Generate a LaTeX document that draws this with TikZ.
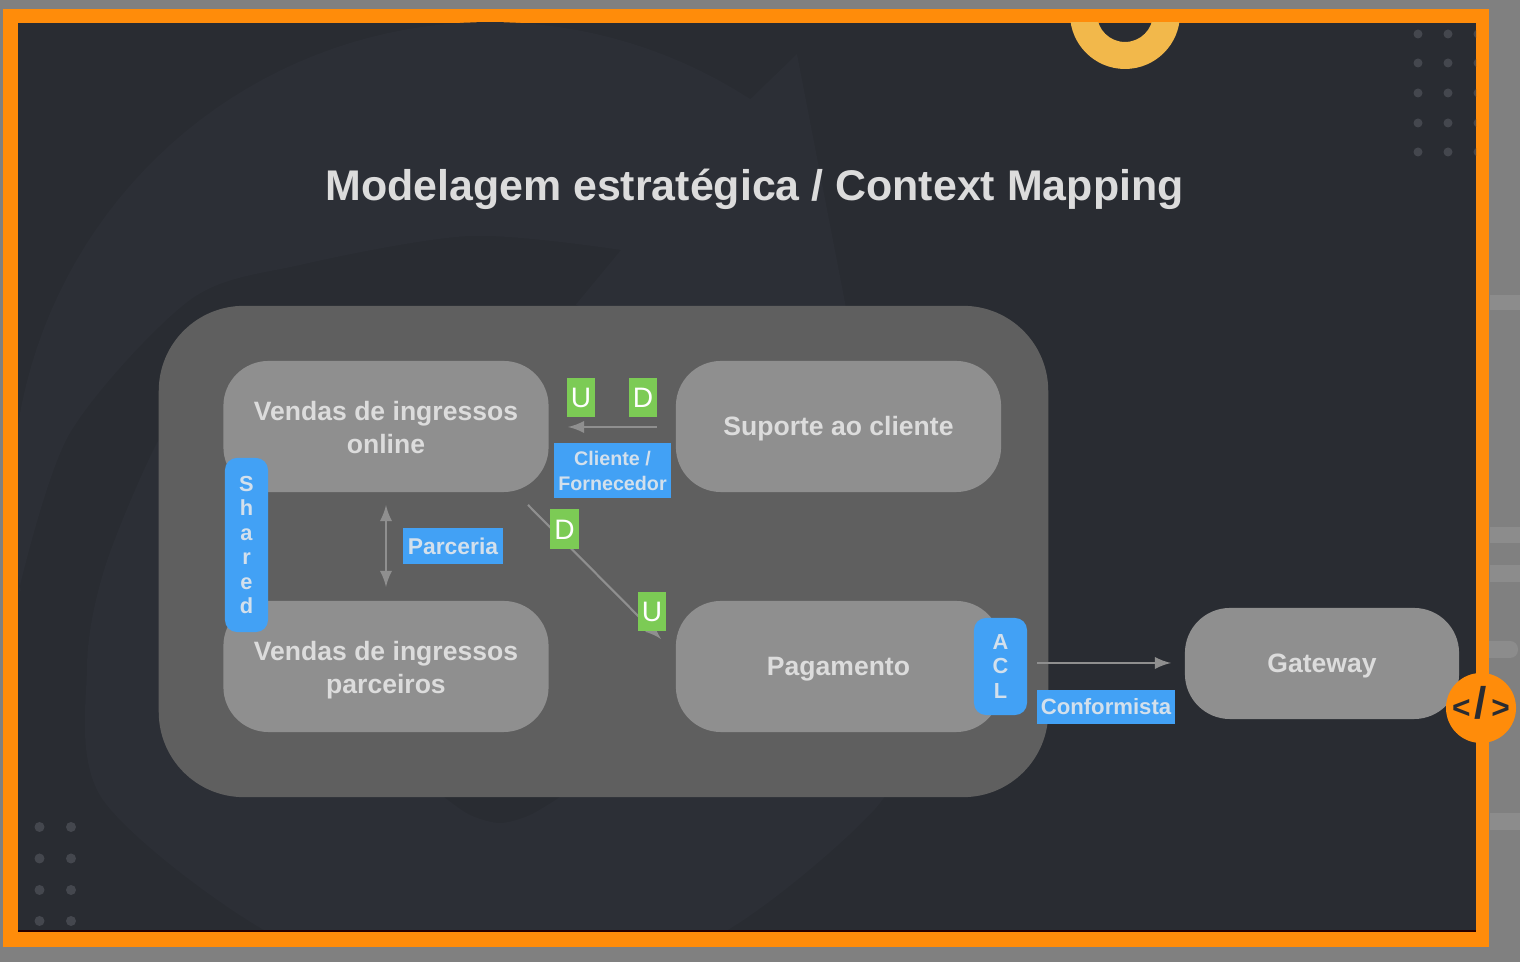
\documentclass[tikz,border=0pt]{standalone}
\usepackage{fontspec, graphicx}
\setmainfont{Liberation Sans}
\definecolor{slidebg}{HTML}{292C32}
\definecolor{swirl}{HTML}{2C2F36}
\definecolor{outerbg}{HTML}{808080}
\definecolor{outerbar}{HTML}{8C8C8C}
\definecolor{frameorange}{HTML}{FF8C0A}
\definecolor{ringyellow}{HTML}{F2B84B}
\definecolor{dotgrey}{HTML}{44474E}
\definecolor{regionfill}{HTML}{5F5F5F}
\definecolor{contextfill}{HTML}{8F8F8F}
\definecolor{labelblue}{HTML}{42A1F5}
\definecolor{taggreen}{HTML}{7CCB55}
\definecolor{softtext}{HTML}{DCDCDC}
\definecolor{bluetext}{HTML}{D3E0EC}
\definecolor{arrowgrey}{HTML}{8F8F8F}
\tikzset{
	context/.style={fill=contextfill, rounded corners=0.45cm, minimum height=1.31cm, minimum width=3.25cm,
		inner sep=0, align=center, text=softtext, font=\fontsize{7.55}{9.4}\selectfont\bfseries},
	oneline/.style={text height=5.4pt, text depth=0pt},
	twolines/.style={text height=15.4pt, text depth=0pt},
	bluelabel/.style={fill=labelblue, inner sep=0, align=center, text=bluetext, font=\fontsize{6.3}{7}\selectfont\bfseries},
	bluetab/.style={bluelabel, rounded corners=0.12cm},
	greentag/.style={fill=taggreen, inner sep=0, minimum width=0.285cm, minimum height=0.395cm, text height=5.7pt, text depth=0pt,
		text=white, font=\fontsize{8}{9}\selectfont},
	relation/.style={->,>=latex, color=arrowgrey, line width=0.6pt},
}

\begin{document}
\begin{tikzpicture}[x=0.01cm,y=-0.01cm]
	\useasboundingbox (0,0) rectangle (1520,962);

	% slide frame
	\fill[outerbg] (0,0) rectangle (1520,962);
	\foreach \py/\ph in {295/15,527/16,565/17,813/17}
		\fill[outerbar] (1490,\py) rectangle (1520,\py+\ph);
	\fill[outerbar, rounded corners=0.08cm] (1480,641) rectangle (1518,658);
	\fill[frameorange] (3,9) rectangle (1489,947);
	\fill[slidebg] (18,23) rectangle (1476,932);
	\fill[black!85!red] (18,930) rectangle (1476,932);

	% swirl behind the diagram
	\begin{scope}
		\clip (18,23) rectangle (1476,930);
		\fill[swirl] (797,54) -- plot[domain=-57:-191,samples=60] ({490+478*cos(\x)},{500+478*sin(\x)})
			-- plot[smooth] coordinates {(19,590) (70,433) (190,300) (300,265) (470,236) (621,250)}
			-- (575.5,305) -- (860,380) -- cycle;
		\fill[swirl] plot[smooth] coordinates {(200,390) (157,443) (105,567) (87,667) (103,800) (278,938) (500,1010) (714,938) (875,809) (930,700)}
			-- (560,780) -- plot[smooth] coordinates {(560,797) (530,815) (500,823) (470,815) (444,797)} -- (444,700) -- cycle;
	\end{scope}

	% dots and ring
	\begin{scope}
		\clip (18,23) rectangle (1476,930);
		\foreach \px in {1418,1448,1478}
			\foreach \py in {34,63,93,123,152}
				\fill[dotgrey] (\px,\py) circle (4.5);
		\foreach \px in {39.5,71}
			\foreach \py in {827,858.5,890,921}
				\fill[dotgrey] (\px,\py) circle (5);
		\fill[ringyellow, even odd rule] (1125,14) circle (55) (1125,14) circle (28);
	\end{scope}

	\node[font=\fontsize{12.2}{14}\selectfont\bfseries, text=softtext](title) at (754.5,189) {Modelagem estratégica / Context Mapping};

	\node[fill=regionfill, rounded corners=0.85cm, minimum width=8.89cm, minimum height=4.91cm, inner sep=0](region) at (603.5,551.5) {};

	\node[context, twolines](online) at (386,426.5) {Vendas de ingressos\\online};
	\node[context, twolines](parceiros) at (386,666.5) {Vendas de ingressos\\parceiros};
	\node[context, oneline](suporte) at (838.5,426.5) {Suporte ao cliente};
	\node[context, oneline](pagamento) at (838.5,666.5) {Pagamento};
	\node[context, oneline, minimum width=2.74cm, minimum height=1.11cm](gateway) at (1322,663.5) {Gateway};

	\coordinate (cf1) at (657,427);
	\coordinate (cf2) at (568,427);
	\coordinate (pa1) at (386,505);
	\coordinate (pa2) at (386,587);
	\coordinate (du1) at (528,505);
	\coordinate (du2) at (661,639);
	\coordinate (co1) at (1037,663);
	\coordinate (co2) at (1171,663);

	\draw[relation](cf1) -- (cf2);
	\draw[relation,<->](pa1) -- (pa2);
	\draw[relation](du1) -- (du2);
	\draw[relation](co1) -- (co2);

	\node[greentag](u1) at (581,397.5) {U};
	\node[greentag](d1) at (643,397.5) {D};
	\node[greentag](d2) at (564.5,529) {D};
	\node[greentag](u2) at (652,611.5) {U};

	\node[bluelabel, minimum width=1.17cm, minimum height=0.55cm, text height=11.1pt, text depth=0pt, font=\fontsize{5.6}{6.9}\selectfont\bfseries](cliente) at (612.5,470.5) {Cliente /\\Fornecedor};
	\node[bluelabel, minimum width=1cm, minimum height=0.36cm, text height=4.7pt, text depth=0pt, font=\fontsize{6.5}{7}\selectfont\bfseries](parceria) at (453,546) {Parceria};
	\node[bluelabel, minimum width=1.38cm, minimum height=0.34cm, text height=4.5pt, text depth=0pt](conformista) at (1106,707) {Conformista};
	\node[bluetab, minimum width=0.43cm, minimum height=1.74cm, font=\fontsize{6.2}{6.95}\selectfont\bfseries](shared) at (246.5,545) {S\\h\\a\\r\\e\\d};
	\node[bluetab, minimum width=0.53cm, minimum height=0.97cm, font=\fontsize{6.2}{7.1}\selectfont\bfseries](acl) at (1000.5,666.5) {A\\C\\L};

	\node[circle, fill=frameorange, minimum size=0.7cm, inner sep=0, text height=6pt, text depth=0pt, font=\fontsize{9}{10}\selectfont\bfseries, text=slidebg](code) at (1481,708) {<\hspace{1.2pt}\scalebox{1.4}{/}\hspace{1.2pt}>};
\end{tikzpicture}
\end{document}
